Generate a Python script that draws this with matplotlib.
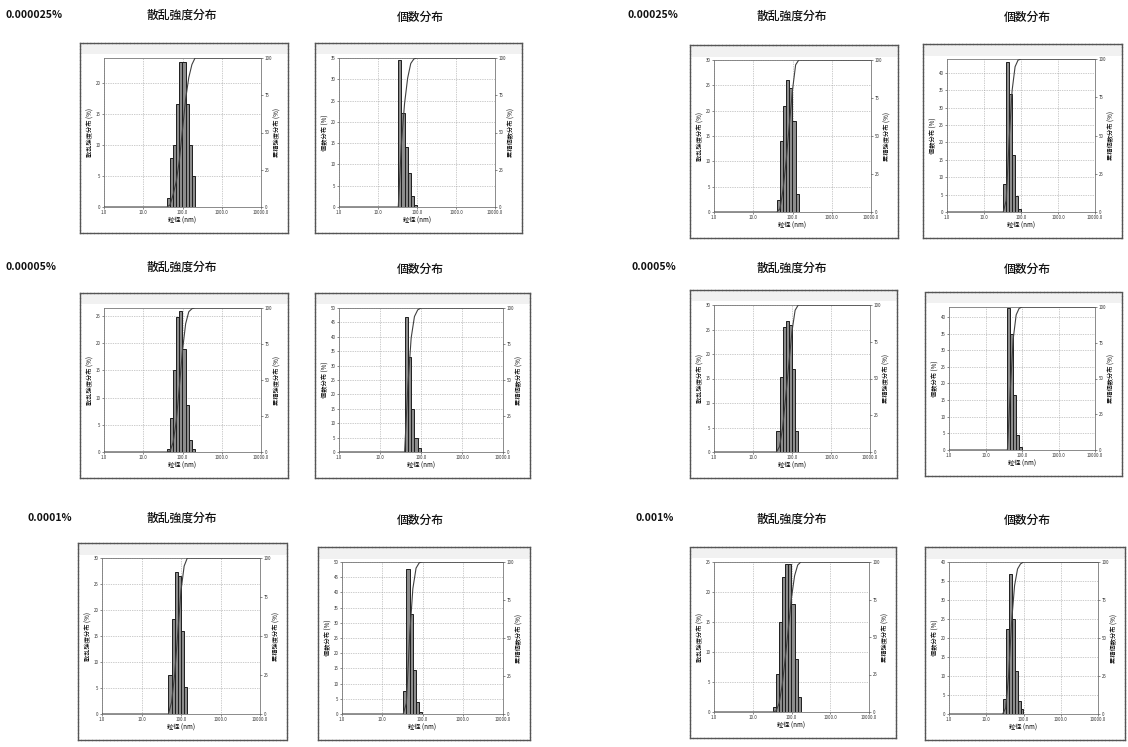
import numpy as np
import matplotlib
matplotlib.use("Agg")
import matplotlib.pyplot as plt
from matplotlib.patches import Rectangle

plt.rcParams['font.family'] = ['Noto Sans CJK JP', 'DejaVu Sans']

# particle size bins (nm)
diam = [25.1, 30.2, 36.3, 43.7, 52.5, 63.1, 75.9, 91.2, 109.6, 131.8, 158.5, 190.5, 229.1, 275.4]

# distributions (%), one list per panel
int_000025 = [0, 0, 0, 1.5, 7.9, 10.0, 16.6, 23.4, 23.4, 16.6, 10.0, 5.0, 0, 0]
num_000025 = [0, 0, 34.5, 22.0, 14.0, 8.0, 2.5, 0.5, 0, 0, 0, 0, 0, 0]
int_00025 = [0, 0, 0, 2.3, 14.0, 21.0, 26.0, 24.5, 18.0, 3.5, 0, 0, 0, 0]
num_00025 = [0, 0, 8.0, 43.0, 34.0, 16.5, 4.6, 0.8, 0, 0, 0, 0, 0, 0]
int_00005 = [0, 0, 0, 0.5, 6.3, 15.0, 24.9, 26.0, 19.0, 8.6, 2.2, 0.5, 0, 0]
num_00005 = [0, 0, 0, 47.0, 33.0, 15.0, 4.7, 1.3, 0, 0, 0, 0, 0, 0]
int_0005 = [0, 0, 0, 4.3, 15.4, 25.5, 26.8, 26.0, 17.0, 4.3, 0, 0, 0, 0]
num_0005 = [0, 0, 0, 42.8, 35.0, 16.5, 4.5, 1.0, 0, 0, 0, 0, 0, 0]
int_0001 = [0, 0, 0, 0, 7.5, 18.2, 27.4, 26.6, 15.9, 5.2, 0, 0, 0, 0]
num_0001 = [0, 0, 7.6, 47.8, 33.0, 14.5, 3.8, 0.5, 0, 0, 0, 0, 0, 0]
int_001 = [0, 0, 0.8, 6.3, 15.0, 22.5, 24.7, 24.7, 18.0, 8.8, 2.5, 0, 0, 0]
num_001 = [0, 4.0, 22.4, 36.8, 25.0, 11.4, 3.5, 1.3, 0, 0, 0, 0, 0, 0]

conc_labels = ['0.000025%', '0.00005%', '0.0001%', '0.00025%', '0.0005%', '0.001%']
xticks = [1.0, 10.0, 100.0, 1000.0, 10000.0]
xticklabels = ['1.0', '10.0', '100.0', '1000.0', '10000.0']
cum_ticks = [0, 25, 50, 75, 100]

W, H = 1128, 747
fig = plt.figure(figsize=(W / 100, H / 100), dpi=100)
fig.patch.set_facecolor('white')


def rect(x0, y0, x1, y1):
    return [x0 / W, 1 - y1 / H, (x1 - x0) / W, (y1 - y0) / H]


def panel(box, heights, ytop, kind):
    x0, y0, x1, y1 = box
    # outer frame of the instrument graph
    fr = fig.add_axes(rect(x0, y0, x1, y1))
    fr.set_xticks([])
    fr.set_yticks([])
    fr.set_xlim(0, 1)
    fr.set_ylim(0, 1)
    for s in fr.spines.values():
        s.set_color('#555555')
        s.set_linewidth(1.0)
        s.set_linestyle((0, (2, 0.6)))
    fr.add_patch(Rectangle((0, 0.94), 1, 0.06, color='#f1f1f1', lw=0))

    ax = fig.add_axes(rect(x0 + 24, y0 + 15, x1 - 27, y1 - 26))
    d = np.array(diam)
    h = np.array(heights, dtype=float)
    r = np.sqrt(10 ** 0.08)
    left = d / r
    right = d * r
    ax.bar(left, h, width=right - left, align='edge', color='#8c8c8c',
           edgecolor='#1e1e1e', linewidth=0.7, zorder=3)
    ax.set_xscale('log')
    ax.set_xlim(1, 10000)
    ax.set_ylim(0, ytop)
    ax.set_xticks(xticks)
    ax.set_xticklabels(xticklabels)
    ax.minorticks_off()
    ax.set_yticks(np.arange(0, ytop + 0.1, 5))
    ax.tick_params(labelsize=3.2, length=1.5, width=0.4, pad=1, colors='#333333')
    ax.grid(True, color='#9a9a9a', linestyle=(0, (1, 1.5)), linewidth=0.5)
    for s in ax.spines.values():
        s.set_color('#777777')
        s.set_linewidth(0.6)

    ax2 = ax.twinx()
    cum = np.cumsum(h) / h.sum() * 100
    nz = np.nonzero(h)[0]
    xs = [1.0, left[nz[0]]] + list(right[nz[0]:nz[-1] + 1]) + [10000.0]
    ys = [0.0, 0.0] + list(cum[nz[0]:nz[-1] + 1]) + [100.0]
    ax2.plot(xs, ys, color='#404040', linewidth=0.8, zorder=4)
    ax2.set_ylim(0, 100)
    ax2.set_yticks(cum_ticks)
    ax2.tick_params(labelsize=3.2, length=1.5, width=0.4, pad=1, colors='#333333')
    for s in ax2.spines.values():
        s.set_visible(False)

    if kind == 'int':
        ax.set_ylabel('散乱強度分布 (%)', fontsize=4.5, labelpad=1)
        ax2.set_ylabel('累積強度分布 (%)', fontsize=4.5, labelpad=1)
    else:
        ax.set_ylabel('個数分布 (%)', fontsize=4.5, labelpad=1)
        ax2.set_ylabel('累積個数分布 (%)', fontsize=4.5, labelpad=1)
    ax.set_xlabel('粒径 (nm)', fontsize=4.5, labelpad=1)


# panels: box in pixels (left, top, right, bottom), data, top of left axis, type
panels = [
    ((80, 43, 288, 233), int_000025, 24, 'int'),
    ((315, 43, 522, 233), num_000025, 35, 'num'),
    ((690, 45, 898, 238), int_00025, 30, 'int'),
    ((923, 44, 1122, 238), num_00025, 44, 'num'),
    ((80, 293, 288, 478), int_00005, 26.5, 'int'),
    ((315, 293, 530, 478), num_00005, 50, 'num'),
    ((690, 290, 897, 478), int_0005, 30, 'int'),
    ((925, 292, 1122, 476), num_0005, 43, 'num'),
    ((78, 543, 287, 740), int_0001, 30, 'int'),
    ((318, 547, 530, 740), num_0001, 50, 'num'),
    ((690, 547, 896, 738), int_001, 25, 'int'),
    ((925, 547, 1125, 740), num_001, 40, 'num'),
]
for box, hts, ytop, kind in panels:
    panel(box, hts, ytop, kind)

# header texts
title_kw = dict(fontsize=8.5, ha='center', va='center', color='#111111', fontweight='medium')
conc_kw = dict(fontsize=7.5, ha='left', va='center', fontweight='bold', color='#111111')
rows_y = [15, 267, 518]
left_conc = [(5, conc_labels[0]), (5, conc_labels[1]), (28, conc_labels[2])]
right_conc = [(628, conc_labels[3]), (632, conc_labels[4]), (636, conc_labels[5])]
title_x = [182, 420, 792, 1027]
for i, y in enumerate(rows_y):
    fig.text(left_conc[i][0] / W, 1 - y / H, left_conc[i][1], **conc_kw)
    fig.text(right_conc[i][0] / W, 1 - y / H, right_conc[i][1], **conc_kw)
    fig.text(title_x[0] / W, 1 - y / H, '散乱強度分布', **title_kw)
    fig.text(title_x[1] / W, 1 - (y + 2) / H, '個数分布', **title_kw)
    fig.text(title_x[2] / W, 1 - (y + 1) / H, '散乱強度分布', **title_kw)
    fig.text(title_x[3] / W, 1 - (y + 2) / H, '個数分布', **title_kw)

fig.savefig('out.png', dpi=100)
